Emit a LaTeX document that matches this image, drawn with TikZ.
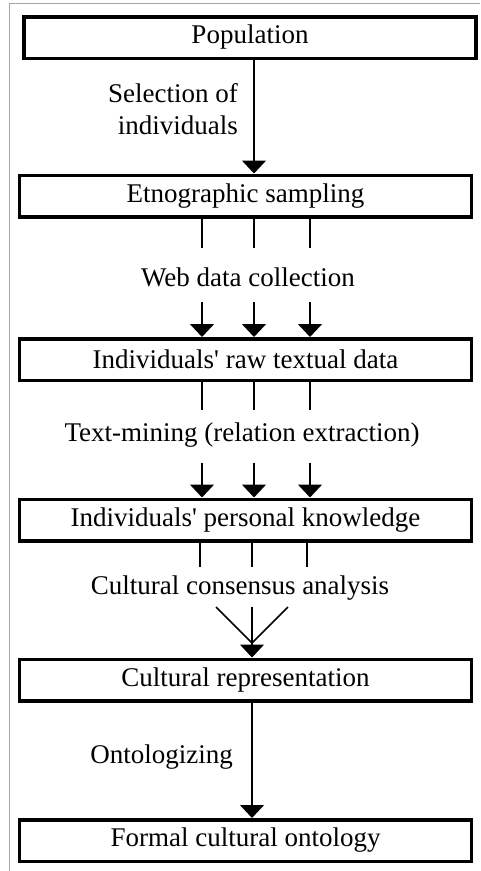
\documentclass[tikz,border=0pt]{standalone}
\usepackage{fontspec}
\setmainfont{Liberation Serif}
\usetikzlibrary{arrows.meta}

\begin{document}
\begin{tikzpicture}[x=1pt,y=-1pt,
    box/.style={draw,line width=3.5pt,minimum width=452pt,minimum height=41.5pt,inner sep=0pt},
    lbl/.style={inner sep=0pt},
    arr/.style={line width=1.5pt,-{Triangle[width=24pt,length=13pt]}},
    stub/.style={line width=1.5pt},
    every node/.style={font=\fontsize{27pt}{32pt}\selectfont}]
    
    \useasboundingbox (0,0) rectangle (480,871);
    \draw[gray!70,line width=1pt] (9,871) -- (9,3) -- (480,3);
    
    \node[box] (pop) at (250,37.5) {Population};
    \node[box] (etno) at (245.5,196) {Etnographic sampling};
    \node[box] (raw) at (245.5,359.5) {Individuals\textquotesingle{} raw textual data};
    \node[box] (pers) at (245.5,520) {Individuals\textquotesingle{} personal knowledge};
    \node[box] (cult) at (245.5,680) {Cultural representation};
    \node[box] (onto) at (245.5,840.5) {Formal cultural ontology};
    
    \node[lbl,anchor=east,align=right] (sel) at (238,109) {Selection of\\individuals};
    \node[lbl] (web) at (248,277) {Web data collection};
    \node[lbl] (tm) at (242,435) {Text-mining (relation extraction)};
    \node[lbl] (cca) at (240,588) {Cultural consensus analysis};
    \node[lbl,anchor=east] (ontz) at (233,757) {Ontologizing};
    
    \coordinate (v) at (252,643);
    
    \draw[arr] (pop.south -| 254,0) -- (etno.north -| 254,0);
    
    \foreach \x in {202,254,310} {
        \draw[stub] (etno.south -| \x,0) -- (\x,248);
        \draw[arr] (\x,302) -- (raw.north -| \x,0);
        \draw[stub] (raw.south -| \x,0) -- (\x,410);
        \draw[arr] (\x,463) -- (pers.north -| \x,0);
    }
    \foreach \x in {200,252,307}
        \draw[stub] (pers.south -| \x,0) -- (\x,567);
    
    \draw[stub] (216,607) -- (v);
    \draw[stub] (288,607) -- (v);
    \draw[arr] (252,607) -- (cult.north -| 252,0);
    
    \draw[arr] (cult.south -| 252,0) -- (onto.north -| 252,0);
    
\end{tikzpicture}
\end{document}
